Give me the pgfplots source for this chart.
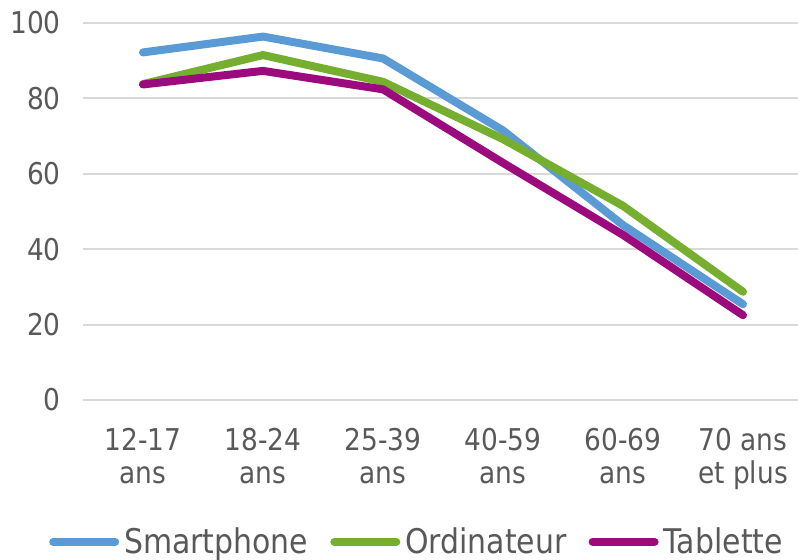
\documentclass[border=0pt]{standalone}
\usepackage{fontspec}
\setmainfont[FakeStretch=0.88]{DejaVu Sans}
\usepackage{pgfplots}
\pgfplotsset{compat=1.18}
\definecolor{cBlue}{HTML}{5B9BD5}
\definecolor{cGreen}{HTML}{76AE2F}
\definecolor{cPurple}{HTML}{9B0B7D}
\definecolor{cGrid}{HTML}{D9D9D9}
\definecolor{cText}{HTML}{595959}
\begin{document}
\begin{tikzpicture}
\useasboundingbox (0,0) rectangle (399pt,279.5pt);
\begin{axis}[
  at={(41.5pt,79.5pt)}, anchor=south west,
  scale only axis, width=360pt, height=188.5pt,
  xmin=-0.5, xmax=5.5, ymin=0, ymax=100,
  axis line style={draw=none},
  major tick length=0pt,
  ytick={0,20,...,100},
  ymajorgrids, grid style={draw=cGrid, line width=1pt},
  xtick={0,1,2,3,4,5},
  xticklabels={{12-17\\ans},{18-24\\ans},{25-39\\ans},{40-59\\ans},{60-69\\ans},{70 ans\\et plus}},
  tick label style={font=\fontsize{15}{16.5}\selectfont, text=cText, inner sep=0pt},
  /pgf/number format/assume math mode=true,
  yticklabel style={anchor=east, xshift=-11pt},
  xticklabel style={align=center, anchor=north, yshift=-14pt},
  legend columns=3,
  legend style={at={(0.466,-0.376)}, anchor=center, draw=none, fill=none,
    font=\fontsize{17}{18.5}\selectfont, text=cText, inner sep=0pt,
    /tikz/every even column/.append style={column sep=8.5pt},
    nodes={inner sep=2.5pt}},
  legend cell align=left,
  legend image code/.code={\draw[#1, line width=4pt, line cap=round] (0pt,0pt) -- (31pt,0pt);},
  every axis plot/.append style={line width=4pt, line cap=round, line join=round, no markers},
]
\addplot[color=cBlue] coordinates {(0,92.2) (1,96.4) (2,90.6) (3,71.5) (4,46.4) (5,25.4)};
\addlegendentry{Smartphone}
\addplot[color=cGreen] coordinates {(0,83.8) (1,91.5) (2,84.4) (3,69.2) (4,51.5) (5,28.7)};
\addlegendentry{Ordinateur}
\addplot[color=cPurple] coordinates {(0,83.7) (1,87.3) (2,82.4) (3,62.9) (4,43.8) (5,22.5)};
\addlegendentry{Tablette}
\end{axis}
\end{tikzpicture}
\end{document}
